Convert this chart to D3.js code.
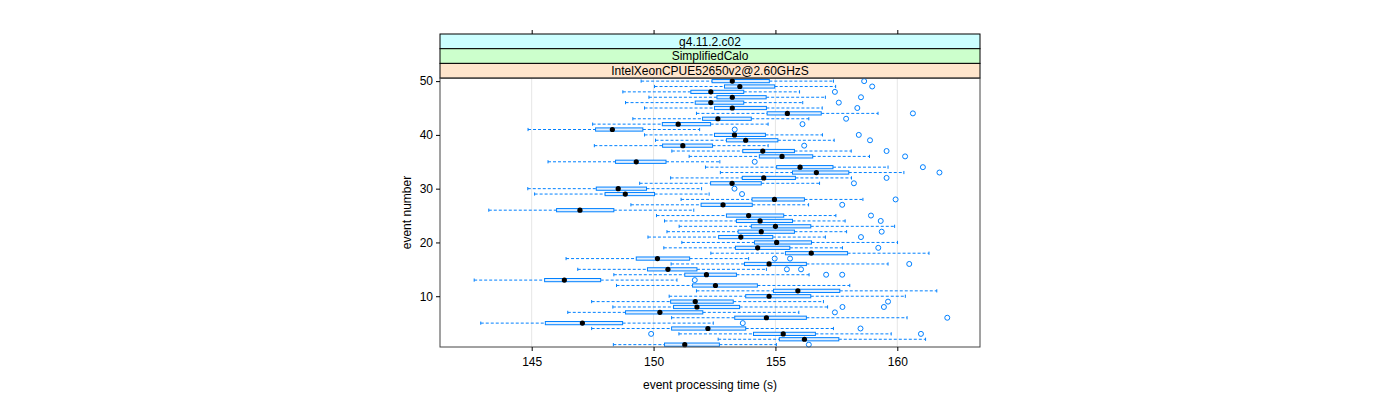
<!DOCTYPE html>
<html lang="en">
<head>
<meta charset="UTF-8">
<title>event processing time</title>
<style>
  body { margin: 0; background: #fff; }
  text { font-family: "Liberation Sans", Arial, sans-serif; font-size: 12px; fill: #000; }
</style>
</head>
<body>
<svg id="chart" width="1400" height="400"></svg>
<script src="https://d3js.org/d3.v7.min.js"></script>
<script>
// values, one entry per event (1..50)
var events = d3.range(1, 51);
var whiskerLow = [148.35,152.65,151.04,147.46,142.91,150.74,146.48,148.33,147.46,150.64,
                  151.76,148.48,142.64,148.37,146.89,150.72,146.41,152.35,150.42,151.16,
                  149.77,150.55,151.05,150.45,150.12,143.24,149.07,151.13,145.12,144.84,
                  149.43,150.70,152.74,152.13,145.67,151.46,150.75,147.57,150.08,149.63,
                  144.85,147.50,149.15,151.76,149.63,148.85,149.81,148.74,150.04,149.49];
var q1 = [150.45,155.16,154.10,150.74,145.56,153.33,148.85,150.82,150.70,153.78,
          154.92,151.60,145.53,151.28,149.75,153.73,149.29,155.41,153.36,154.14,
          152.67,153.47,154.01,153.40,152.99,146.02,151.95,154.04,148.01,147.65,
          152.34,153.64,155.70,155.05,148.44,154.34,153.66,150.37,152.99,152.50,
          147.62,150.36,152.01,154.66,152.50,151.71,152.60,151.53,152.91,152.40];
var medians = [151.28,156.19,155.32,152.23,147.08,154.63,150.26,151.78,151.71,154.74,
               155.92,152.54,146.34,152.17,150.59,154.74,150.16,156.47,154.27,155.05,
               153.58,154.42,155.00,154.37,153.90,146.98,152.85,154.96,148.84,148.55,
               153.22,154.52,156.68,156.01,149.29,155.27,154.48,151.20,153.78,153.32,
               148.31,151.01,152.64,155.49,153.23,152.35,153.23,152.35,153.54,153.23];
var q3 = [152.70,157.60,156.64,153.78,148.73,156.27,152.02,153.53,153.27,156.45,
          157.64,154.26,147.83,153.40,151.78,156.27,151.48,157.96,155.59,156.48,
          154.89,155.78,156.45,155.70,155.34,148.37,154.05,156.19,150.04,149.71,
          154.42,155.82,158.01,157.36,150.51,156.53,155.78,152.42,155.10,154.59,
          149.56,152.34,154.01,156.88,154.63,153.70,154.62,153.70,154.97,154.75];
var whiskerHigh = [155.04,161.16,159.75,157.38,152.45,160.40,155.96,157.14,156.97,160.33,
                   161.62,158.05,150.96,156.38,154.63,159.62,153.90,161.30,157.75,160.01,
                   157.05,157.92,159.89,157.86,157.48,151.65,156.36,158.59,152.28,151.97,
                   156.81,158.12,160.27,159.62,152.72,158.86,158.11,154.70,157.41,156.93,
                   151.89,154.70,156.37,159.21,156.92,156.12,157.05,155.99,157.47,157.38];
var outliers = [[156.37],[],[149.90,160.97],[158.49],[153.66],[162.05],[157.44],[157.75,159.45],[159.62],[],
                [],[],[151.69],[157.08,157.74],[155.47,156.05],[160.49],[154.97,155.60],[],[159.22],[],
                [158.51],[159.36],[],[159.32],[158.92],[],[157.74],[159.93],[153.63],[153.32],
                [158.22],[159.56],[161.73],[161.05],[154.15],[160.32],[159.56],[156.18],[158.88],[158.42],
                [153.33],[156.11],[157.90],[160.64],[158.36],[157.60],[158.51],[157.44],[158.97],[158.64]];
var xTicks = [145, 150, 155, 160];
var yTicks = [10, 20, 30, 40, 50];
var strips = ["g4.11.2.c02", "SimplifiedCalo", "IntelXeonCPUE52650v2@2.60GHzS"];
var stripColors = ["#ccffff", "#ccffcc", "#ffe5cc"];

var svg = d3.select("#chart");

var panelL = 440, panelR = 980, stripTop = 34, stripH = 14.7, panelB = 347;
var plotTop = stripTop + strips.length * stripH;

var x = d3.scaleLinear().domain([141.238, 163.393]).range([panelL, panelR]);
var y = d3.scaleLinear().domain([0.56, 50.56]).range([panelB, plotTop]);

var blue = "#0080ff";
var boxH = 3.2;

// grid
svg.append("g").selectAll("line").data(xTicks).enter().append("line")
  .attr("x1", function(d) { return x(d); }).attr("x2", function(d) { return x(d); })
  .attr("y1", plotTop).attr("y2", panelB)
  .attr("stroke", "#e6e6e6").attr("stroke-width", 1);

// strips
var s = svg.append("g");
strips.forEach(function(label, i) {
  s.append("rect").attr("x", panelL).attr("y", stripTop + i * stripH)
    .attr("width", panelR - panelL).attr("height", stripH)
    .attr("fill", stripColors[i]).attr("stroke", "#000").attr("stroke-width", 1);
  s.append("text").attr("x", (panelL + panelR) / 2).attr("y", stripTop + i * stripH + stripH / 2 + 4.3)
    .attr("text-anchor", "middle").text(label);
});

// boxes
var rows = events.map(function(e, i) {
  return { ev: e, lo: whiskerLow[i], q1: q1[i], med: medians[i], q3: q3[i], hi: whiskerHigh[i], out: outliers[i] };
});

var g = svg.append("g");
var row = g.selectAll("g.row").data(rows).enter().append("g").attr("class", "row");

row.append("line")
  .attr("x1", function(d) { return x(d.lo); }).attr("x2", function(d) { return x(d.q1); })
  .attr("y1", function(d) { return y(d.ev); }).attr("y2", function(d) { return y(d.ev); })
  .attr("stroke", blue).attr("stroke-dasharray", "3,2");
row.append("line")
  .attr("x1", function(d) { return x(d.q3); }).attr("x2", function(d) { return x(d.hi); })
  .attr("y1", function(d) { return y(d.ev); }).attr("y2", function(d) { return y(d.ev); })
  .attr("stroke", blue).attr("stroke-dasharray", "3,2");
// staples
row.selectAll("line.cap").data(function(d) { return [[d.lo, d.ev], [d.hi, d.ev]]; })
  .enter().append("line").attr("class", "cap")
  .attr("x1", function(d) { return x(d[0]); }).attr("x2", function(d) { return x(d[0]); })
  .attr("y1", function(d) { return y(d[1]) - boxH / 2; }).attr("y2", function(d) { return y(d[1]) + boxH / 2; })
  .attr("stroke", blue);
row.append("rect")
  .attr("x", function(d) { return x(d.q1); })
  .attr("y", function(d) { return y(d.ev) - boxH / 2; })
  .attr("width", function(d) { return x(d.q3) - x(d.q1); })
  .attr("height", boxH)
  .attr("fill", "#e3f0ff").attr("stroke", blue).attr("stroke-width", 1);
row.append("circle")
  .attr("cx", function(d) { return x(d.med); }).attr("cy", function(d) { return y(d.ev); })
  .attr("r", 2.6).attr("fill", "#000");
row.selectAll("circle.out").data(function(d) { return d.out.map(function(v) { return [v, d.ev]; }); })
  .enter().append("circle").attr("class", "out")
  .attr("cx", function(d) { return x(d[0]); }).attr("cy", function(d) { return y(d[1]); })
  .attr("r", 2.5).attr("fill", "none").attr("stroke", blue);

// panel border
svg.append("rect").attr("x", panelL).attr("y", plotTop)
  .attr("width", panelR - panelL).attr("height", panelB - plotTop)
  .attr("fill", "none").attr("stroke", "#444");

// axes
var xb = svg.append("g").attr("transform", "translate(0," + panelB + ")")
  .call(d3.axisBottom(x).tickValues(xTicks).tickSize(4).tickPadding(6));
var xt = svg.append("g").attr("transform", "translate(0," + stripTop + ")")
  .call(d3.axisTop(x).tickValues(xTicks).tickSize(4).tickFormat(""));
var yl = svg.append("g").attr("transform", "translate(" + panelL + ",0)")
  .call(d3.axisLeft(y).tickValues(yTicks).tickSize(4).tickPadding(3));
[xb, xt, yl].forEach(function(a) {
  a.select(".domain").remove();
  a.selectAll("line").attr("stroke", "#000");
  a.selectAll("text").attr("font-size", 12).attr("font-family", "Liberation Sans, Arial, sans-serif");
});

svg.append("text").attr("x", (panelL + panelR) / 2).attr("y", 389)
  .attr("text-anchor", "middle").text("event processing time (s)");
svg.append("text").attr("transform", "translate(411," + ((plotTop + panelB) / 2) + ") rotate(-90)")
  .attr("text-anchor", "middle").text("event number");
</script>
</body>
</html>
